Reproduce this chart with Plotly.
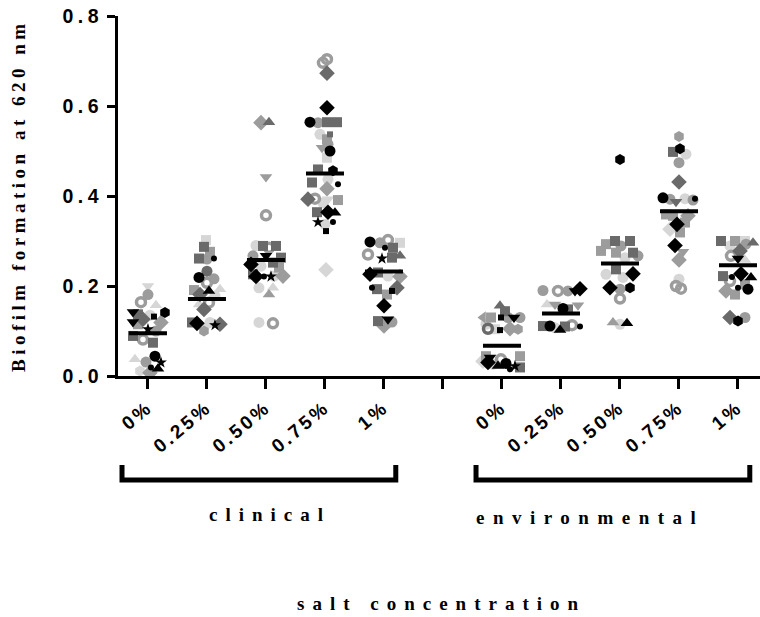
import plotly.graph_objects as go

# ---------------- data ----------------
concentrations = ["0%", "0.25%", "0.50%", "0.75%", "1%"]
sources = ["clinical", "environmental"]
y_ticks = [0.0, 0.2, 0.4, 0.6, 0.8]
y_tick_labels = ["0.0", "0.2", "0.4", "0.6", "0.8"]

clinical_0 = [0.200, 0.181, 0.164, 0.157, 0.142, 0.141, 0.137, 0.135, 0.132, 0.126, 0.120, 0.119, 0.115,
              0.104, 0.100, 0.089, 0.081, 0.074, 0.044, 0.037, 0.031, 0.030, 0.016, 0.019, 0.011, 0.007]
clinical_025 = [0.302, 0.287, 0.276, 0.261, 0.261, 0.260, 0.233, 0.219, 0.216, 0.207, 0.193, 0.191, 0.189,
                0.181, 0.178, 0.163, 0.159, 0.148, 0.119, 0.117, 0.119, 0.113, 0.115, 0.100, 0.111]
clinical_050 = [0.563, 0.564, 0.442, 0.357, 0.290, 0.289, 0.289, 0.285, 0.267, 0.263, 0.267, 0.248, 0.252,
                0.244, 0.241, 0.226, 0.221, 0.221, 0.221, 0.222, 0.222, 0.196, 0.196, 0.181, 0.119, 0.117]
clinical_075 = [0.704, 0.696, 0.673, 0.596, 0.564, 0.563, 0.564, 0.564, 0.537, 0.537, 0.526, 0.515, 0.507,
                0.500, 0.485, 0.459, 0.456, 0.437, 0.430, 0.426, 0.416, 0.393, 0.394, 0.393, 0.391, 0.385,
                0.364, 0.364, 0.363, 0.342, 0.337, 0.342, 0.322, 0.236]
clinical_1 = [0.298, 0.296, 0.296, 0.302, 0.285, 0.285, 0.270, 0.267, 0.261, 0.263, 0.226, 0.230, 0.222,
              0.221, 0.196, 0.193, 0.196, 0.189, 0.181, 0.156, 0.122, 0.120, 0.126, 0.111]
environmental_0 = [0.156, 0.144, 0.130, 0.130, 0.130, 0.130, 0.130, 0.130, 0.115, 0.105, 0.104, 0.102, 0.105,
                   0.104, 0.044, 0.041, 0.037, 0.033, 0.044, 0.030, 0.028, 0.022, 0.022, 0.019, 0.015, 0.026]
environmental_025 = [0.190, 0.189, 0.189, 0.194, 0.189, 0.159, 0.159, 0.150, 0.157, 0.148, 0.111, 0.111,
                     0.102, 0.113, 0.110, 0.107, 0.110]
environmental_050 = [0.481, 0.300, 0.300, 0.293, 0.289, 0.278, 0.274, 0.274, 0.267, 0.263, 0.237, 0.226,
                     0.227, 0.219, 0.196, 0.196, 0.193, 0.172, 0.119, 0.115, 0.117]
environmental_075 = [0.532, 0.498, 0.505, 0.493, 0.474, 0.431, 0.396, 0.393, 0.387, 0.394, 0.391, 0.394,
                     0.359, 0.356, 0.356, 0.337, 0.341, 0.326, 0.319, 0.290, 0.276, 0.258, 0.215, 0.200, 0.194]
environmental_1 = [0.300, 0.300, 0.300, 0.296, 0.289, 0.293, 0.278, 0.267, 0.261, 0.258, 0.222, 0.220, 0.227,
                   0.219, 0.211, 0.204, 0.196, 0.193, 0.189, 0.181, 0.130, 0.122, 0.130]

clinical_means = [0.095, 0.171, 0.258, 0.450, 0.232]
environmental_means = [0.067, 0.139, 0.250, 0.366, 0.246]

# ---------------- horizontal scatter of the dots (pixels) ----------------
jitter_c0 = [0, 0, -7, 8, -15, 17, -10, 2, 6, -5, -15, 13, -10, 0, 8, -15, -5, 5, 7, -13, -2, 13, 10, 3, -8, 2]
jitter_c025 = [-1, -3, 3, -8, 7, 0, 0, -8, 7, 0, 13, -13, 2, -7, 8, 2, -8, -3, -15, -10, 3, 8, 13, -3, 0]
jitter_c050 = [-5, 3, 0, 0, -10, -3, 10, 3, -13, 15, 0, -15, 7, -5, 13, -13, -10, -2, 5, 17, 8, -7, 7, 3, -7, 7]
jitter_c075 = [2, -2, 2, 2, -15, -7, 2, 12, -5, 5, 2, 3, -3, 5, 2, -7, 8, 3, -13, 13, 2, -17, -10, 3, 13, -2,
               -8, 3, 10, -7, 0, 8, 1, 1]
jitter_c1 = [-14, -4, 16, 4, 9, 1, -16, 16, -2, 8, -14, -6, 4, 16, -12, -7, 13, 8, 3, 0, -6, 8, 4, 0]
jitter_e0 = [-2, 3, -19, -11, -1, 6, 12, 18, -16, -14, -7, -2, 8, 16, -16, -12, -1, -19, 18, -14, 4, -4, 13,
             18, 8, -9]
jitter_e025 = [-18, -3, 7, 19, 14, -14, -6, 2, 17, 7, -18, -11, -1, 11, 19, -6, 4]
jitter_e050 = [0, -5, 10, -14, 1, -19, -4, 13, 18, 5, -4, -14, 13, 3, -10, 10, 0, 0, -7, 0, 7]
jitter_e075 = [0, -6, 1, 7, 0, 0, -16, -9, -3, 6, 14, 16, -13, -6, 9, -2, 6, -9, 1, -4, 4, 0, 0, -3, 2]
jitter_e1 = [-17, -3, 7, 15, -8, 8, 2, -7, 0, 7, -15, -6, 3, 13, -8, 7, 0, 10, -12, -3, -8, 0, 7]

# ---------------- marker styles (colour letter + shape letter) ----------------
style_c0 = "lv go gr l^ kv kh ds lo kq dD kv gD gs k* go ds gr ds ko l^ go k* k^ kp lh gD".split()
style_c025 = "ls ds gs ds kp go do ko go gr l^ gs k^ dD lo gr l^ dD ds kD lo k* dD gh lv".split()
style_c050 = "gD d^ gv gr lo ds ds gr go ds kv kD ds lo gs ds kD kp k* gD lo lo l^ g^ lo gr".split()
style_c075 = ("gr gr dD kD ko go ds ds lo dq gs go gv ko ls ds kh lo ds kp gD dD gr lv gs lo ds kD k^ k* "
              "lo kp kq lD").split()
style_c1 = "ko go ls gr ds kp gr d^ k* ds kD ds lo gD kp ds dD kq gs kD ds go kv gD".split()
style_e0 = "d^ ds g< gs kq go kv go lo dr ls kq gD gh gs kv gr lD gs kD ko k^ k* ds kp lo".split()
style_e025 = "go gr go kD kv l^ gv ko gv ds ds ko k^ gr kp lo ds".split()
style_e050 = "kh ds ds gs go gs gs ds go lo ds lo kD lo kD kh go gr g^ lo k^".split()
style_e075 = "gh ds kh lo go dD ko go dv lo go kp gs gs gD kD gs lD gs kD gv gD lo gr gr".split()
style_e1 = "ds gs ls d^ lo go dD gr kv l^ ds kp kD k^ gr gs kp ko gD gs dD kh go".split()

clinical_groups = [clinical_0, clinical_025, clinical_050, clinical_075, clinical_1]
environmental_groups = [environmental_0, environmental_025, environmental_050, environmental_075, environmental_1]
clinical_jitter = [jitter_c0, jitter_c025, jitter_c050, jitter_c075, jitter_c1]
environmental_jitter = [jitter_e0, jitter_e025, jitter_e050, jitter_e075, jitter_e1]
clinical_styles = [style_c0, style_c025, style_c050, style_c075, style_c1]
environmental_styles = [style_e0, style_e025, style_e050, style_e075, style_e1]

# ---------------- layout constants ----------------
W, H = 760, 617
ML, MR, MT, MB = 118, 0, 16, 241
X_RANGE = [-0.508, 10.373]
PX_PER_UNIT = (W - ML - MR) / (X_RANGE[1] - X_RANGE[0])
MEAN_HALF = 19 / PX_PER_UNIT

COLORS = {"k": "#000000", "d": "#6a6a6a", "g": "#9c9c9c", "l": "#d6d6d6"}
SHAPES = {"o": ("circle", 11), "s": ("square", 10), "D": ("diamond", 12), "^": ("triangle-up", 11),
          "v": ("triangle-down", 11), "<": ("triangle-left", 11), "h": ("hexagon", 11),
          "*": ("star", 9), "r": ("circle-open", 9), "p": ("circle", 6), "q": ("square", 6)}

positions_clin = [0, 1, 2, 3, 4]
positions_env = [6, 7, 8, 9, 10]


def spaced(text, px):
    return f'<span style="letter-spacing:{px}px">{text}</span>'


# collect points per style
buckets = {}
all_sets = list(zip(positions_clin, clinical_groups, clinical_jitter, clinical_styles)) + \
    list(zip(positions_env, environmental_groups, environmental_jitter, environmental_styles))
for pos, vals, jit, sty in all_sets:
    for v, j, s in zip(vals, jit, sty):
        b = buckets.setdefault(s, ([], []))
        b[0].append(pos + j / PX_PER_UNIT)
        b[1].append(v)

fig = go.Figure()
for col in ["l", "g", "d", "k"]:
    for code, (xs, ys) in buckets.items():
        if code[0] != col:
            continue
        sym, size = SHAPES[code[1]]
        if sym == "circle-open":
            marker = dict(symbol=sym, size=size, color=COLORS[col], line=dict(color=COLORS[col], width=3.5))
        else:
            marker = dict(symbol=sym, size=size, color=COLORS[col], line=dict(width=0))
        fig.add_trace(go.Scatter(x=xs, y=ys, mode="markers", marker=marker, showlegend=False,
                                 hoverinfo="y"))

# mean lines
mx, my = [], []
for pos, m in list(zip(positions_clin, clinical_means)) + list(zip(positions_env, environmental_means)):
    mx += [pos - MEAN_HALF, pos + MEAN_HALF, None]
    my += [m, m, None]
fig.add_trace(go.Scatter(x=mx, y=my, mode="lines", line=dict(color="black", width=4),
                         showlegend=False, hoverinfo="skip"))

tick_vals = positions_clin + [5] + positions_env
tick_text = [spaced(c, 3) for c in concentrations] + [""] + [spaced(c, 3) for c in concentrations]

sans = "Arial, Liberation Sans, sans-serif"
serif = "Times New Roman, Liberation Serif, serif"

fig.update_layout(
    width=W, height=H,
    margin=dict(l=ML, r=MR, t=MT, b=MB, autoexpand=False),
    plot_bgcolor="white", paper_bgcolor="white",
    xaxis=dict(range=X_RANGE, tickmode="array", tickvals=tick_vals, ticktext=tick_text,
               tickangle=-40, showgrid=False, zeroline=False, showline=True, linecolor="black",
               linewidth=3, ticks="outside", ticklen=10, tickwidth=3, tickcolor="black",
               ticklabelstandoff=0,
               tickfont=dict(family=sans, size=19, color="black", weight="bold")),
    yaxis=dict(range=[0, 0.8], tickmode="array", tickvals=y_ticks,
               ticktext=[spaced(t, 4.5) for t in y_tick_labels],
               showgrid=False, zeroline=False, showline=True, linecolor="black", linewidth=3,
               ticks="outside", ticklen=8, tickwidth=3, tickcolor="black",
               tickfont=dict(family=sans, size=19.5, color="black", weight="bold")),
)

# group brackets
bracket_y_top = -0.247
bracket_y_bot = -0.289
for first, last in [(positions_clin[0], positions_clin[-1]), (positions_env[0], positions_env[-1])]:
    x0, x1 = first - 0.44, last + 0.2
    fig.add_shape(type="path", xref="x", yref="paper",
                  path=f"M {x0},{bracket_y_top} L {x0},{bracket_y_bot} L {x1},{bracket_y_bot} L {x1},{bracket_y_top}",
                  line=dict(color="black", width=5))

title_font = dict(family=serif, size=19, color="black", weight="bold")
fig.add_annotation(text=spaced(sources[0], 8), xref="x", yref="paper", x=2.06, y=-0.386,
                   xanchor="center", yanchor="middle", showarrow=False, font=title_font)
fig.add_annotation(text=spaced(sources[1], 8.5), xref="x", yref="paper", x=7.49, y=-0.392,
                   xanchor="center", yanchor="middle", showarrow=False, font=title_font)
fig.add_annotation(text=spaced("salt concentration", 8), xref="paper", yref="paper",
                   x=(441 - ML) / (W - ML - MR), y=-0.633, xanchor="center", yanchor="middle",
                   showarrow=False, font=title_font)
fig.add_annotation(text=spaced("Biofilm formation at 620 nm", 4.5), xref="paper", yref="paper",
                   x=(18 - ML) / (W - ML - MR), y=0.5, textangle=-90, xanchor="center", yanchor="middle",
                   showarrow=False, font=title_font)

fig.write_html("out.html", config={"displayModeBar": False},
               post_script="document.body.style.margin='0px';document.body.style.overflow='hidden';")
